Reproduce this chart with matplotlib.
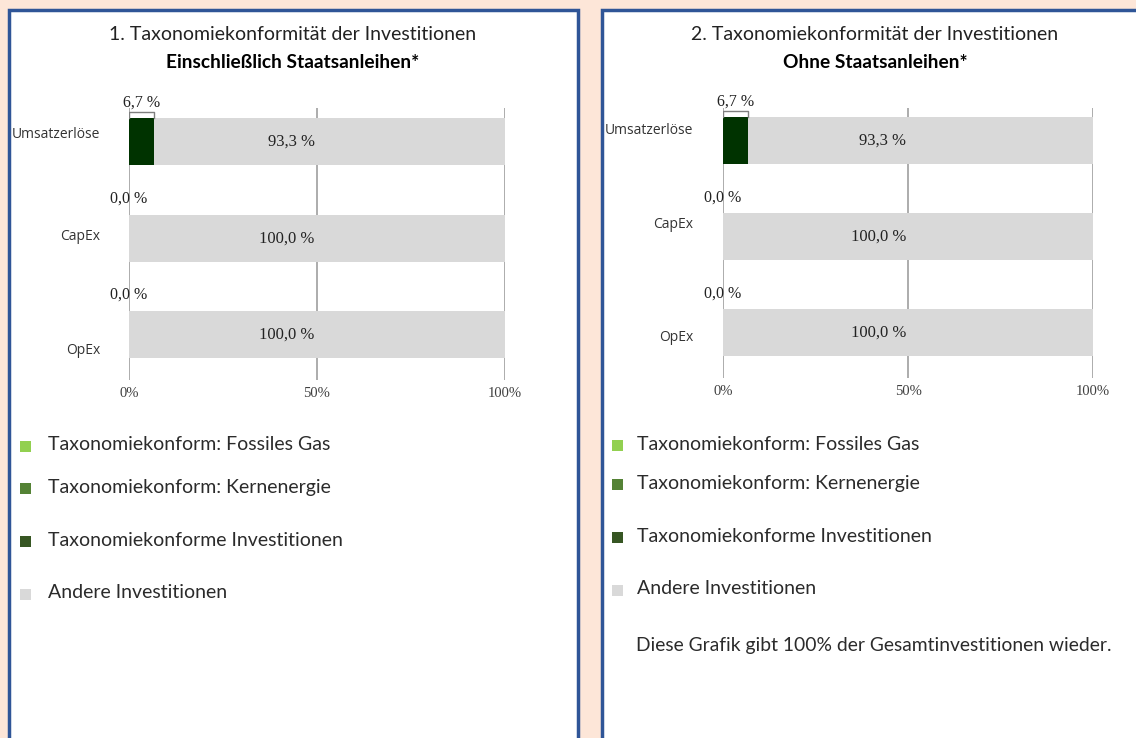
import matplotlib.pyplot as plt
from matplotlib.patches import Rectangle

# data
categories = ["Umsatzerlöse", "CapEx", "OpEx"]
aligned_incl = [6.7, 0.0, 0.0]
other_incl = [93.3, 100.0, 100.0]
aligned_excl = [6.7, 0.0, 0.0]
other_excl = [93.3, 100.0, 100.0]
ticks = [0, 50, 100]
tick_labels = ["0%", "50%", "100%"]
legend_labels = ["Taxonomiekonform: Fossiles Gas", "Taxonomiekonform: Kernenergie",
                 "Taxonomiekonforme Investitionen", "Andere Investitionen"]
legend_colors = ["#92d050", "#548235", "#375623", "#d9d9d9"]

W, H = 1136, 738
BG = "#fde6d8"
BLUE = "#2f5597"
DARK = "#003300"
GRAY = "#d9d9d9"
SANS = "Lato"
SERIF = "Liberation Serif"

fig = plt.figure(figsize=(W / 100, H / 100), dpi=100)
fig.patch.set_facecolor(BG)


def fx(px):
    return px / W


def fy(py):
    return 1 - py / H


# panel frames
for x0, x1 in [(9, 578), (602, 1150)]:
    fig.patches.append(Rectangle((fx(x0), fy(760)), fx(x1 - x0), (760 - 10) / H,
                                 transform=fig.transFigure, facecolor="white",
                                 edgecolor=BLUE, linewidth=2.5, zorder=-5))


def panel(x0, x1, y0, y1, ylim, aligned, other, lab_x, lab_dy, title, sub, cx):
    ax = fig.add_axes([fx(x0), fy(y1), fx(x1 - x0), (y1 - y0) / H])
    ax.set_zorder(2)
    ax.set_facecolor("none")
    ypos = range(len(categories))
    ax.barh(ypos, aligned, height=0.49, color=DARK, zorder=3)
    ax.barh(ypos, other, left=aligned, height=0.49, color=GRAY, zorder=3)
    ax.set_xlim(0, 100)
    ax.set_ylim(*ylim)
    for s in ax.spines.values():
        s.set_visible(False)
    ax.set_yticks([])
    ax.set_xticks(ticks)
    ax.set_xticklabels(tick_labels, fontfamily=SERIF, fontsize=10.5, color="#404040")
    ax.tick_params(axis="x", length=0, pad=5)
    ax.xaxis.grid(True, color="#a6a6a6", linewidth=1.3, zorder=1)
    ax.set_axisbelow(True)
    for i, (a, o) in enumerate(zip(aligned, other)):
        # aligned share label above bar
        ax.text(a / 2, i - 0.41, f"{a:.1f} %".replace(".", ","), ha="center", va="center",
                fontfamily=SERIF, fontsize=11.5, color="#222222", zorder=5)
        if a > 0:
            ax.plot([0, 0, a, a], [i - 0.245, i - 0.31, i - 0.31, i - 0.245],
                    color="#7f7f7f", linewidth=1, zorder=4)
        ax.text(a + o * 0.39 if a > 0 else o * 0.42, i, f"{o:.1f} %".replace(".", ","),
                ha="center", va="center", fontfamily=SERIF, fontsize=12,
                color="#222222", zorder=5)
        fig.text(fx(lab_x), fy(lab_dy[i]), categories[i], ha="right", va="center",
                 fontfamily="Open Sans", fontsize=10, color="#333333")
    fig.text(fx(cx), fy(34), title, ha="center", va="center", fontfamily=SANS,
             fontsize=14, color="#222222")
    fig.text(fx(cx), fy(63), sub, ha="center", va="center", fontfamily=SANS,
             fontweight="bold", fontsize=13.8, color="#000000")
    return ax


panel(129, 505, 108, 380, (2.47, -0.35), aligned_incl, other_incl, 100, [135, 236, 350],
      "1. Taxonomiekonformität der Investitionen", "Einschließlich Staatsanleihen*", 293)
panel(723, 1093, 108, 378, (2.47, -0.34), aligned_excl, other_excl, 693, [130, 224, 338],
      "2. Taxonomiekonformität der Investitionen", "Ohne Staatsanleihen*", 875)

# legends
for sx, tx, ys in [(20, 48, [446, 488, 541, 594]), (612, 637, [445, 484, 537, 590])]:
    for lab, col, y in zip(legend_labels, legend_colors, ys):
        fig.patches.append(Rectangle((fx(sx), fy(y + 5.5)), fx(11), 11 / H,
                                     transform=fig.transFigure, facecolor=col,
                                     edgecolor="none", zorder=2))
        fig.text(fx(tx), fy(y - 1), lab, ha="left", va="center", fontfamily=SANS,
                 fontsize=14, color="#2b2b2b")

fig.text(fx(636), fy(646), "Diese Grafik gibt 100% der Gesamtinvestitionen wieder.",
         ha="left", va="center", fontfamily=SANS, fontsize=13.9,
         color="#2b2b2b")

fig.savefig("out.png", dpi=100, facecolor=BG)
